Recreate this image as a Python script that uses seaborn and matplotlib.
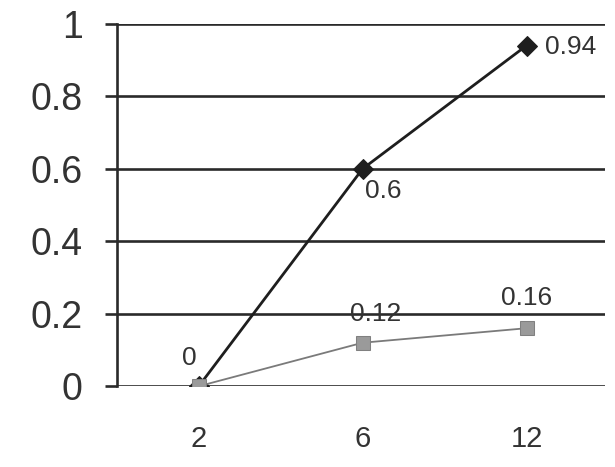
import matplotlib
matplotlib.use("Agg")
import matplotlib.pyplot as plt
import seaborn as sns
import pandas as pd

months = ["2", "6", "12"]
series_a = [0, 0.6, 0.94]
series_b = [0, 0.12, 0.16]
labels_a = ["", "0.6", "0.94"]
labels_b = ["0", "0.12", "0.16"]
y_ticks = [0, 0.2, 0.4, 0.6, 0.8, 1.0]
y_tick_labels = ["0", "0.2", "0.4", "0.6", "0.8", "1"]


def main():
    sns.set_style("white")
    plt.rcParams["font.family"] = ["Liberation Sans", "DejaVu Sans"]

    df_a = pd.DataFrame({"month": months, "value": series_a})
    df_b = pd.DataFrame({"month": months, "value": series_b})

    fig = plt.figure(figsize=(6.15, 4.67), dpi=100)
    ax = fig.add_axes([0.190, 0.173, 0.794, 0.776])

    grid_col = "#2a2a2a"
    for y in y_ticks:
        ax.axhline(y, color=grid_col, lw=1.9, zorder=1)

    # dark series first, grey one drawn over it (grey square sits on top at month 2)
    sns.lineplot(data=df_a, x="month", y="value", ax=ax, color="#1e1e1e",
                 lw=2.0, marker="D", markersize=10, markerfacecolor="#1e1e1e",
                 markeredgecolor="#1e1e1e", zorder=3)
    sns.lineplot(data=df_b, x="month", y="value", ax=ax, color="#7a7a7a",
                 lw=1.3, marker="s", markersize=10, markerfacecolor="#9a9a9a",
                 markeredgecolor="#808080", zorder=4)

    # data labels
    offs_a = [None, (2, -16, "left"), (13, -1, "left")]
    for i, (v, t) in enumerate(zip(series_a, labels_a)):
        if t:
            dx, dy, ha = offs_a[i]
            ax.annotate(t, xy=(i, v), xytext=(dx, dy), textcoords="offset points",
                        ha=ha, va="center", fontsize=19, color="#333333")
    offs_b = [(-6.5, 20), (9, 21), (0, 21.5)]
    for i, (v, t) in enumerate(zip(series_b, labels_b)):
        dx, dy = offs_b[i]
        ax.annotate(t, xy=(i, v), xytext=(dx, dy), textcoords="offset points",
                    ha="center", va="center", fontsize=19, color="#333333")

    ax.set_xlim(-0.5, 2.48)
    ax.set_ylim(0, 1)
    ax.set_yticks(y_ticks)
    ax.set_yticklabels(y_tick_labels)
    ax.set_xlabel("")
    ax.set_ylabel("")

    for s in ["top", "right", "bottom"]:
        ax.spines[s].set_visible(False)
    ax.spines["left"].set_color(grid_col)
    ax.spines["left"].set_linewidth(1.9)

    ax.tick_params(axis="y", length=8.6, width=1.9, color=grid_col, pad=16,
                   labelsize=27, labelcolor="#333333", left=True)
    ax.tick_params(axis="x", length=0, pad=28, labelsize=21, labelcolor="#333333")

    plt.savefig("out.png", dpi=100)
    plt.close()


if __name__ == "__main__":
    main()
